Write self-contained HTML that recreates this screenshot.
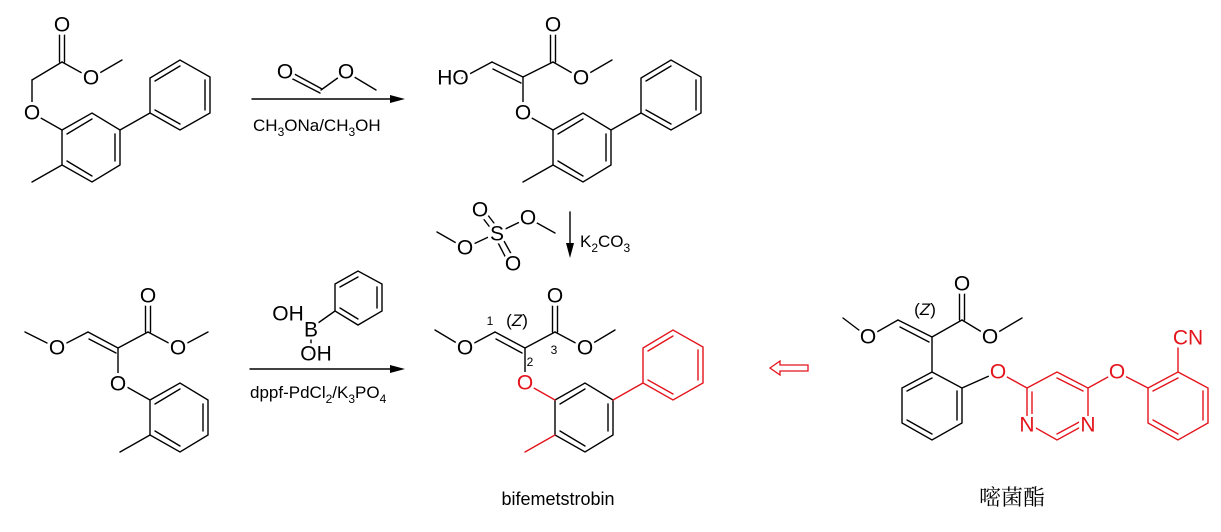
<!DOCTYPE html>
<html><head><meta charset="utf-8"><style>
html,body{margin:0;padding:0;background:#fff;}
svg{display:block;}
text{font-family:"Liberation Sans",sans-serif;}
.l{stroke:#000;stroke-width:1.4;fill:none;stroke-linecap:round;}
.r{stroke:#e3141c;stroke-width:1.4;fill:none;stroke-linecap:round;}
.a{font-size:21px;text-anchor:middle;dominant-baseline:central;stroke:#fff;stroke-width:6px;paint-order:stroke;stroke-linejoin:round;}
.ar{fill:#e3141c;}
.w{fill:#fff;stroke:none;}
.t{font-size:17px;}
.s{font-size:12px;}
</style></head><body>
<svg width="1221" height="532" viewBox="0 0 1221 532" xmlns="http://www.w3.org/2000/svg">
<defs>
<g id="ringA">
<polygon class="l" points="62,130 92,113 120,130 120,165 92,182 62,165"/>
<line class="l" x1="67" y1="134" x2="92" y2="119"/>
<line class="l" x1="115" y1="134" x2="115" y2="161"/>
<line class="l" x1="92" y1="176" x2="67" y2="161"/>
</g>
<g id="phA">
<polygon points="150,113 150,78 180,60 210,77 210,113 180,130"/>
<line x1="155" y1="81" x2="180" y2="66"/>
<line x1="205" y1="80" x2="205" y2="110"/>
<line x1="180" y1="124" x2="155" y2="110"/>
</g>
<g id="ringP">
<polygon points="932,372 962,388 962,423 932,440 902,423 902,388"/>
<line x1="957" y1="391" x2="957" y2="420"/>
<line x1="932" y1="434" x2="907" y2="420"/>
<line x1="907" y1="391" x2="932" y2="378"/>
</g>
</defs>

<!-- Molecule 1 -->
<use href="#ringA"/>
<g class="l"><use href="#phA"/></g>
<line class="l" x1="120" y1="130" x2="150" y2="113"/>
<line class="l" x1="62" y1="165" x2="32" y2="182"/>
<line class="l" x1="62" y1="130" x2="32" y2="113"/>
<line class="l" x1="32" y1="113" x2="32" y2="80"/>
<line class="l" x1="32" y1="80" x2="62" y2="62"/>
<line class="l" x1="62" y1="62" x2="91" y2="78"/>
<line class="l" x1="91" y1="78" x2="122" y2="60"/>
<line class="l" x1="59.5" y1="62" x2="59.5" y2="28"/>
<line class="l" x1="64.5" y1="62" x2="64.5" y2="28"/>
<circle class="w" cx="62" cy="25" r="10"/><text class="a" x="62" y="25">O</text>
<circle class="w" cx="91" cy="78" r="10"/><text class="a" x="91" y="78">O</text>
<circle class="w" cx="32" cy="113" r="10"/><text class="a" x="32" y="113">O</text>

<!-- Arrow 1 -->
<line class="l" x1="252" y1="99" x2="395" y2="99"/>
<polygon points="405,99 390,95 390,103" fill="#000"/>
<line class="l" x1="287" y1="70" x2="322" y2="89"/>
<line class="l" x1="285" y1="75" x2="320" y2="93"/>
<line class="l" x1="321" y1="90" x2="346" y2="72"/>
<line class="l" x1="346" y1="72" x2="376" y2="90"/>
<circle class="w" cx="285" cy="72" r="10"/><text class="a" x="285" y="72">O</text>
<circle class="w" cx="346" cy="72" r="10"/><text class="a" x="346" y="72">O</text>
<text class="t" x="253" y="131">CH<tspan class="s" dy="5">3</tspan><tspan dy="-5">ONa/CH</tspan><tspan class="s" dy="5">3</tspan><tspan dy="-5">OH</tspan></text>

<!-- Molecule 2 -->
<g transform="translate(491,0)">
<use href="#ringA"/>
<g class="l"><use href="#phA"/></g>
<line class="l" x1="120" y1="130" x2="150" y2="113"/>
<line class="l" x1="62" y1="165" x2="32" y2="182"/>
</g>
<line class="l" x1="553" y1="130" x2="523" y2="113"/>
<line class="l" x1="523" y1="113" x2="523" y2="77"/>
<line class="l" x1="523" y1="77" x2="492" y2="62"/>
<line class="l" x1="521" y1="83" x2="493" y2="69"/>
<line class="l" x1="492" y1="62" x2="462" y2="78"/>
<line class="l" x1="523" y1="77" x2="553" y2="62"/>
<line class="l" x1="553" y1="62" x2="581" y2="78"/>
<line class="l" x1="581" y1="78" x2="612" y2="60"/>
<line class="l" x1="550.5" y1="62" x2="550.5" y2="28"/>
<line class="l" x1="555.5" y1="62" x2="555.5" y2="28"/>
<circle class="w" cx="553" cy="25" r="10"/><text class="a" x="553" y="25">O</text>
<circle class="w" cx="581" cy="78" r="10"/><text class="a" x="581" y="78">O</text>
<circle class="w" cx="523" cy="113" r="10"/><text class="a" x="523" y="113">O</text>
<text class="a" x="453" y="78">HO</text>

<!-- Dimethyl sulfate -->
<line class="l" x1="437" y1="232" x2="465" y2="248"/>
<line class="l" x1="465" y1="248" x2="497" y2="233"/>
<line class="l" x1="497" y1="233" x2="528" y2="218"/>
<line class="l" x1="528" y1="218" x2="555" y2="233"/>
<line class="l" x1="495" y1="234" x2="479" y2="213"/>
<line class="l" x1="500" y1="231" x2="484" y2="210"/>
<line class="l" x1="494" y1="235" x2="508" y2="262"/>
<line class="l" x1="499" y1="232" x2="514" y2="259"/>
<circle class="w" cx="465" cy="248" r="10"/><text class="a" x="465" y="248">O</text>
<circle class="w" cx="528" cy="218" r="10"/><text class="a" x="528" y="218">O</text>
<circle class="w" cx="480" cy="210" r="10"/><text class="a" x="480" y="210">O</text>
<circle class="w" cx="513" cy="264" r="10"/><text class="a" x="513" y="264">O</text>
<circle class="w" cx="497" cy="234" r="8"/><text class="a" x="497" y="234">S</text>
<line class="l" x1="570" y1="212" x2="570" y2="248"/>
<polygon points="570,258 566,243 574,243" fill="#000"/>
<text class="t" x="580" y="247">K<tspan class="s" dy="5">2</tspan><tspan dy="-5">CO</tspan><tspan class="s" dy="5">3</tspan></text>

<!-- Molecule 3 -->
<g transform="translate(88,270)"><use href="#ringA"/>
<line class="l" x1="62" y1="165" x2="32" y2="182"/></g>
<line class="l" x1="150" y1="400" x2="118" y2="382"/>
<line class="l" x1="118" y1="382" x2="118" y2="348"/>
<line class="l" x1="25" y1="332" x2="57" y2="348"/>
<line class="l" x1="57" y1="348" x2="88" y2="332"/>
<line class="l" x1="88" y1="332" x2="118" y2="348"/>
<line class="l" x1="89" y1="339" x2="116" y2="353"/>
<line class="l" x1="118" y1="348" x2="148" y2="332"/>
<line class="l" x1="148" y1="332" x2="178" y2="348"/>
<line class="l" x1="178" y1="348" x2="208" y2="332"/>
<line class="l" x1="145.5" y1="332" x2="145.5" y2="298"/>
<line class="l" x1="150.5" y1="332" x2="150.5" y2="298"/>
<circle class="w" cx="148" cy="296" r="10"/><text class="a" x="148" y="296">O</text>
<circle class="w" cx="178" cy="348" r="10"/><text class="a" x="178" y="348">O</text>
<circle class="w" cx="57" cy="348" r="10"/><text class="a" x="57" y="348">O</text>
<circle class="w" cx="118" cy="384" r="10"/><text class="a" x="118" y="384">O</text>

<!-- Arrow 2 -->
<line class="l" x1="250" y1="369" x2="395" y2="369"/>
<polygon points="405,369 390,365 390,373" fill="#000"/>
<g class="l">
<polygon points="335,284 358,271 382,284 382,311 358,325 335,311"/>
<line x1="340" y1="287" x2="358" y2="277"/>
<line x1="377" y1="287" x2="377" y2="308"/>
<line x1="358" y1="319" x2="340" y2="308"/>
<line x1="335" y1="311" x2="311" y2="328"/>
<line x1="311" y1="328" x2="311" y2="354"/>
</g>
<text class="a" x="288" y="314">OH</text>
<circle class="w" cx="311" cy="330" r="8"/><text class="a" x="311" y="330">B</text>
<text class="a" x="316" y="354">OH</text>
<text class="t" x="250" y="398">dppf-PdCl<tspan class="s" dy="5">2</tspan><tspan dy="-5">/K</tspan><tspan class="s" dy="5">3</tspan><tspan dy="-5">PO</tspan><tspan class="s" dy="5">4</tspan></text>

<!-- Molecule 4 bifemetstrobin -->
<g transform="translate(493,270)">
<use href="#ringA"/>
<g class="r"><use href="#phA"/></g>
<line class="r" x1="120" y1="130" x2="150" y2="113"/>
<line class="r" x1="62" y1="165" x2="32" y2="182"/>
<line class="r" x1="62" y1="130" x2="32" y2="113"/>
</g>
<line class="l" x1="525" y1="383" x2="525" y2="348"/>
<line class="l" x1="435" y1="330" x2="465" y2="348"/>
<line class="l" x1="465" y1="348" x2="495" y2="332"/>
<line class="l" x1="495" y1="332" x2="525" y2="348"/>
<line class="l" x1="496" y1="339" x2="522" y2="353"/>
<line class="l" x1="525" y1="348" x2="555" y2="332"/>
<line class="l" x1="555" y1="332" x2="585" y2="348"/>
<line class="l" x1="585" y1="348" x2="615" y2="330"/>
<line class="l" x1="552.5" y1="332" x2="552.5" y2="299"/>
<line class="l" x1="557.5" y1="332" x2="557.5" y2="299"/>
<circle class="w" cx="555" cy="296" r="10"/><text class="a" x="555" y="296">O</text>
<circle class="w" cx="585" cy="348" r="10"/><text class="a" x="585" y="348">O</text>
<circle class="w" cx="465" cy="348" r="10"/><text class="a" x="465" y="348">O</text>
<circle class="w" cx="525" cy="383" r="10"/><text class="a ar" x="525" y="383">O</text>
<text x="490" y="325" font-size="12" text-anchor="middle">1</text>
<text x="517" y="326" font-size="17" text-anchor="middle">(<tspan font-style="italic">Z</tspan>)</text>
<text x="530" y="366" font-size="12" text-anchor="middle">2</text>
<text x="554" y="354" font-size="12" text-anchor="middle">3</text>
<text x="558" y="505" font-size="18" text-anchor="middle">bifemetstrobin</text>

<!-- open arrow -->
<path d="M770,368 L780,361 L780,365 L808,365 L808,371 L780,371 L780,375 Z" fill="none" stroke="#e3141c" stroke-width="1.3"/>

<!-- Molecule 5 -->
<g class="l"><use href="#ringP"/></g>
<line class="l" x1="932" y1="372" x2="932" y2="337"/>
<line class="l" x1="843" y1="318" x2="868" y2="337"/>
<line class="l" x1="868" y1="337" x2="898" y2="320"/>
<line class="l" x1="898" y1="320" x2="932" y2="337"/>
<line class="l" x1="900" y1="327" x2="929" y2="342"/>
<line class="l" x1="932" y1="337" x2="962" y2="320"/>
<line class="l" x1="962" y1="320" x2="990" y2="337"/>
<line class="l" x1="990" y1="337" x2="1022" y2="318"/>
<line class="l" x1="959.5" y1="320" x2="959.5" y2="287"/>
<line class="l" x1="964.5" y1="320" x2="964.5" y2="287"/>
<circle class="w" cx="962" cy="284" r="10"/><text class="a" x="962" y="284">O</text>
<circle class="w" cx="990" cy="337" r="10"/><text class="a" x="990" y="337">O</text>
<circle class="w" cx="868" cy="337" r="10"/><text class="a" x="868" y="337">O</text>
<text x="925" y="315" font-size="17" text-anchor="middle">(<tspan font-style="italic">Z</tspan>)</text>
<line class="l" x1="962" y1="388" x2="998" y2="372"/>
<g class="r">
<line x1="998" y1="372" x2="1027" y2="388"/>
<polygon points="1027,388 1057,372 1088,388 1088,423 1057,440 1027,423"/>
<line x1="1057" y1="378" x2="1083" y2="391"/>
<line x1="1057" y1="434" x2="1083" y2="420"/>
<line x1="1032" y1="392" x2="1032" y2="419"/>
<line x1="1088" y1="388" x2="1117" y2="372"/>
<line x1="1117" y1="372" x2="1148" y2="388"/>
<g transform="translate(246,0)"><use href="#ringP"/></g>
<line x1="1178" y1="372" x2="1178" y2="348"/>
</g>
<circle class="w" cx="998" cy="372" r="10"/><text class="a ar" x="998" y="372">O</text>
<circle class="w" cx="1117" cy="372" r="10"/><text class="a ar" x="1117" y="372">O</text>
<circle class="w" cx="1027" cy="425" r="9"/><text class="a ar" x="1027" y="425">N</text>
<circle class="w" cx="1088" cy="425" r="9"/><text class="a ar" x="1088" y="425">N</text>
<text class="a ar" x="1188" y="338">CN</text>
<text x="1012" y="505" font-size="22" text-anchor="middle" style='font-family:"Liberation Serif","Noto Serif CJK SC",serif'>嘧菌酯</text>
</svg>
</body></html>
